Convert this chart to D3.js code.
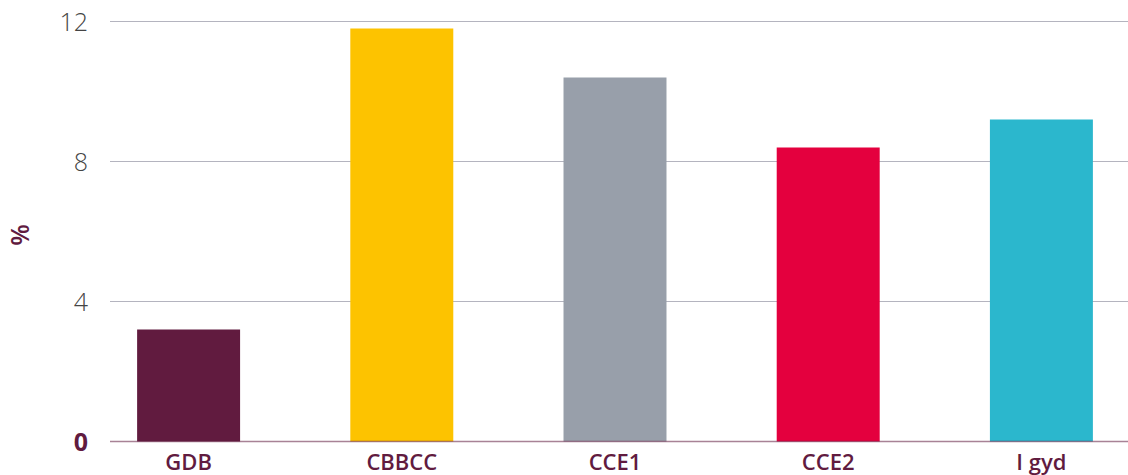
<html>
<head>
<script src="https://d3js.org/d3.v7.min.js"></script>
<style>
  body { margin: 0; background: #fff; }
  text { font-family: "Open Sans", Lato, sans-serif; }
</style>
</head>
<body>
<svg width="1128" height="475"></svg>
<script>
// data
const categories = ["GDB", "CBBCC", "CCE1", "CCE2", "I gyd"];
const values = [3.2, 11.8, 10.4, 8.4, 9.2];
const barColors = ["#611b3f", "#fdc300", "#989faa", "#e4003e", "#2bb7cd"];
const yTicks = [0, 4, 8, 12];

const maroon = "#611b3f";
const svg = d3.select("svg");

const x = d3.scaleBand().domain(categories).range([82, 1148])
  .paddingInner(0.517).paddingOuter(0.2585);
const y = d3.scaleLinear().domain([0, 12]).range([441.5, 21.5]);

// gridlines
svg.append("g").selectAll("line")
  .data(yTicks.filter(d => d > 0))
  .enter().append("line")
    .attr("x1", 110).attr("x2", 1128)
    .attr("y1", d => y(d)).attr("y2", d => y(d))
    .attr("stroke", "#b4b4bf").attr("stroke-width", 1);

// bars
svg.append("g").selectAll("rect")
  .data(categories)
  .enter().append("rect")
    .attr("x", d => x(d))
    .attr("width", x.bandwidth())
    .attr("y", (d, i) => y(values[i]))
    .attr("height", (d, i) => y(0) - y(values[i]))
    .attr("fill", (d, i) => barColors[i]);

// baseline
svg.append("line")
  .attr("x1", 110).attr("x2", 1128)
  .attr("y1", y(0)).attr("y2", y(0))
  .attr("stroke", maroon).attr("stroke-opacity", 0.55).attr("stroke-width", 1.5);

// y tick labels
svg.append("g").selectAll("text")
  .data(yTicks)
  .enter().append("text")
    .attr("x", 88)
    .attr("y", d => y(d))
    .attr("dy", "0.36em")
    .attr("text-anchor", "end")
    .style("font-size", "25px")
    .style("font-weight", d => d == 0 ? 700 : 300)
    .style("fill", d => d == 0 ? maroon : "#444")
    .text(d => d);

// x labels
svg.append("g").selectAll("text")
  .data(categories)
  .enter().append("text")
    .attr("x", d => x(d) + x.bandwidth() / 2)
    .attr("y", 470)
    .attr("text-anchor", "middle")
    .style("font-size", "22px")
    .style("font-weight", 600)
    .style("fill", maroon)
    .text(d => d);

// y-axis label
svg.append("text")
  .attr("transform", "translate(29,235) rotate(-90)")
  .attr("text-anchor", "middle")
  .style("font-size", "25px")
  .style("font-weight", 600)
  .style("fill", maroon)
  .text("%");
</script>
</body>
</html>
